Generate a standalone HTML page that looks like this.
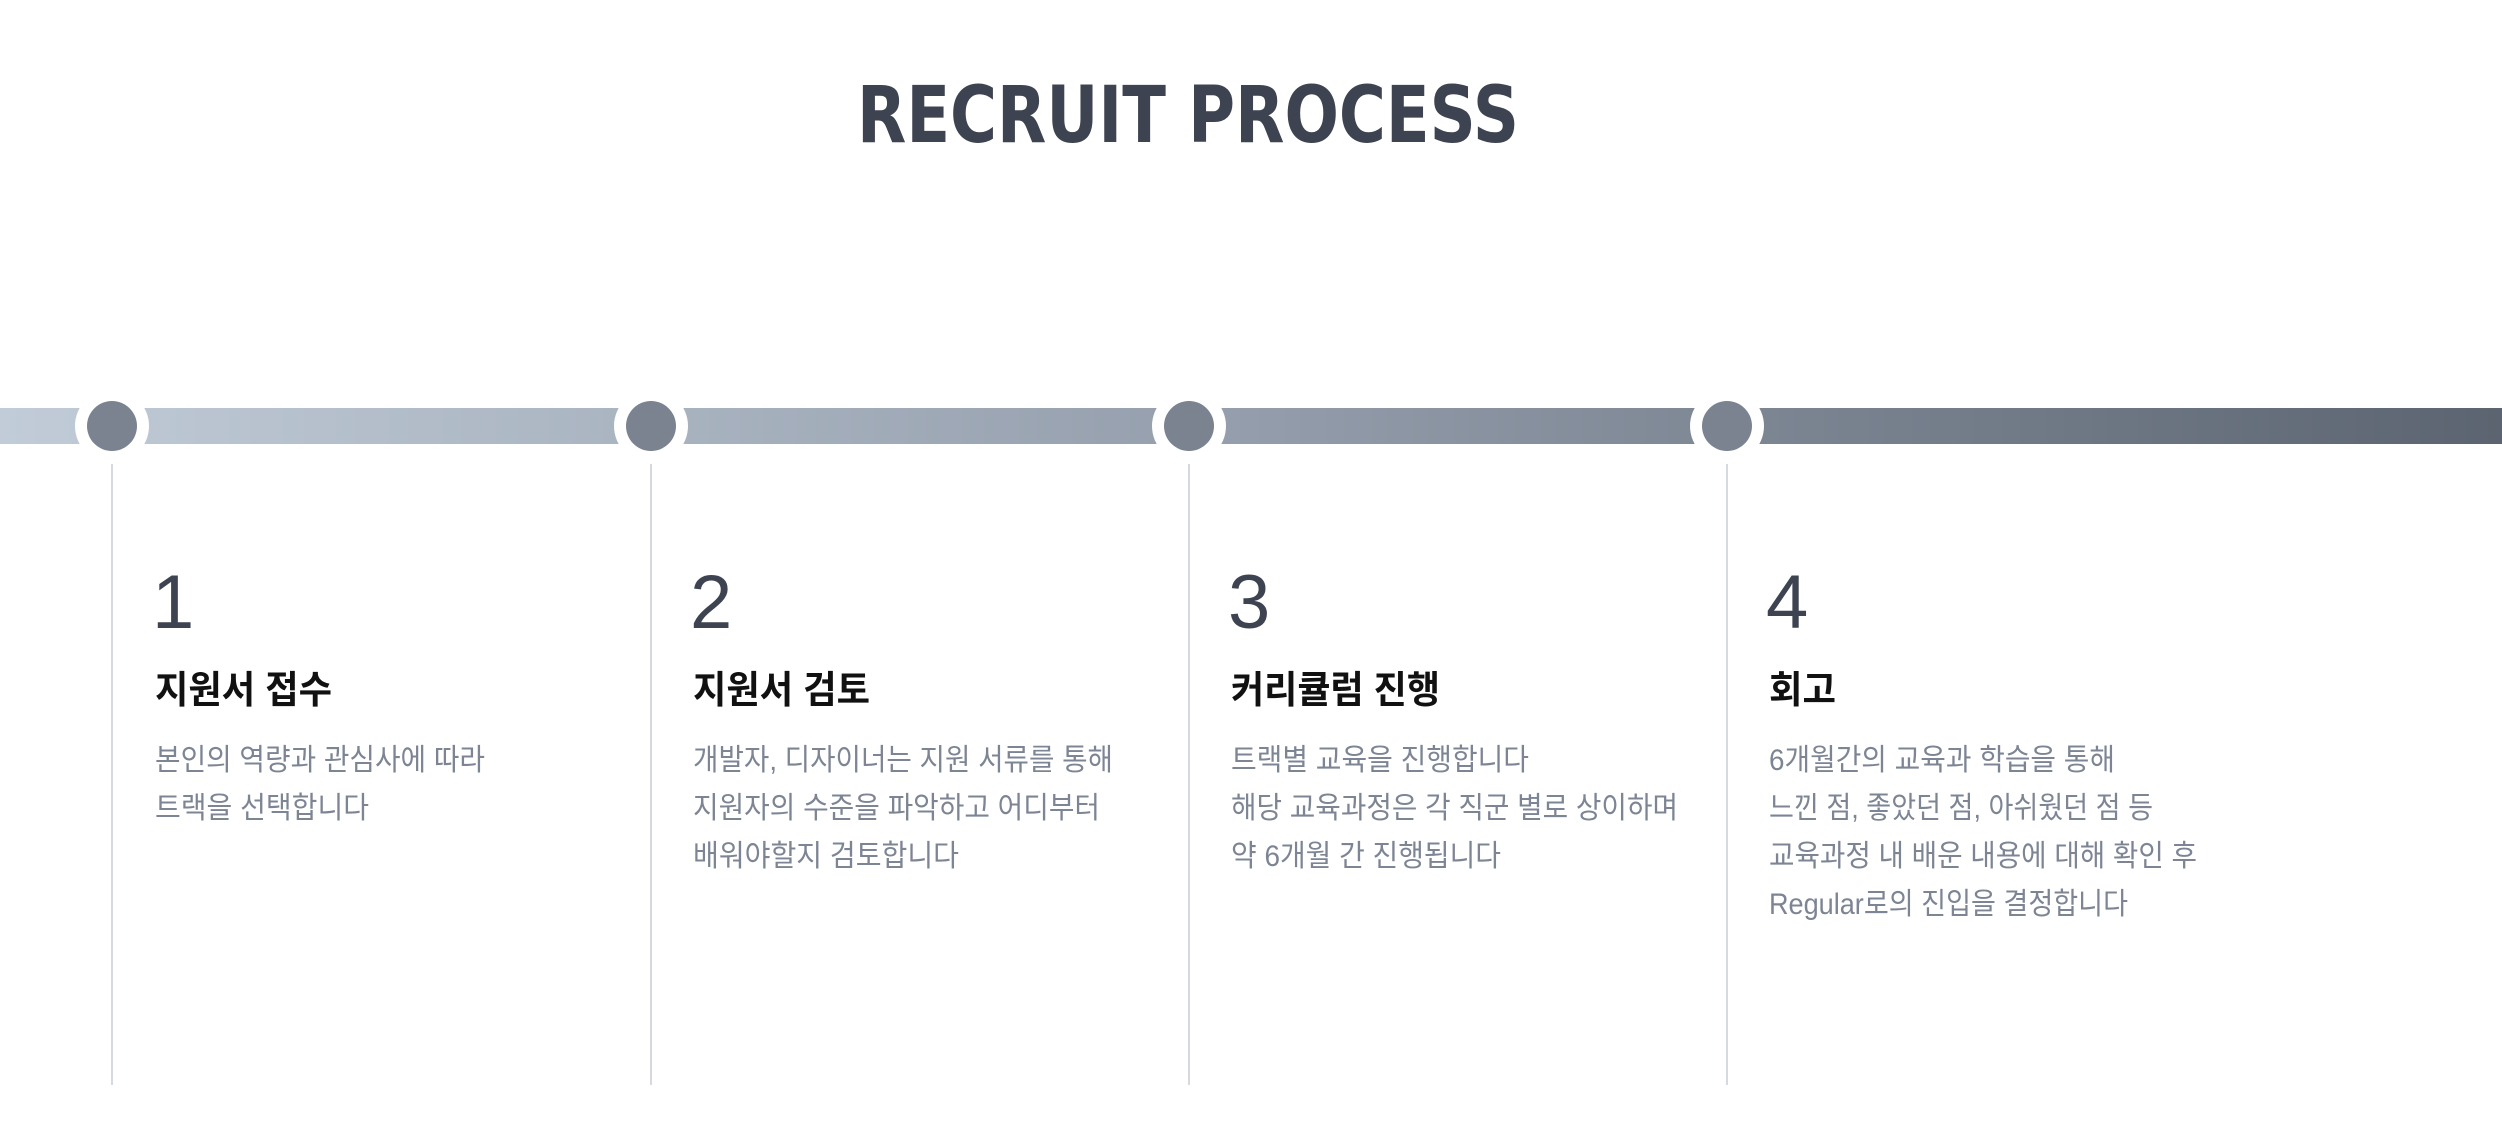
<!DOCTYPE html>
<html><head><meta charset="utf-8"><style>html,body{margin:0;padding:0;background:#fff}svg{display:block}</style></head>
<body>
<svg width="2502" height="1122" viewBox="0 0 2502 1122" xmlns="http://www.w3.org/2000/svg" font-family="'Liberation Sans','Noto Sans CJK KR',sans-serif">
<defs><linearGradient id="g" x1="0" x2="1" y1="0" y2="0"><stop offset="0" stop-color="#c1ccd8"/><stop offset="0.5" stop-color="#939dab"/><stop offset="1" stop-color="#5b6470"/></linearGradient></defs>
<text x="857" y="142" font-size="78" font-weight="bold" fill="#3d4350" textLength="662" lengthAdjust="spacingAndGlyphs" font-family="'DejaVu Sans','Liberation Sans',sans-serif">RECRUIT PROCESS</text>
<rect x="0" y="408" width="2502" height="36" fill="url(#g)"/>
<g fill="#fff"><circle cx="112" cy="426" r="37"/><circle cx="651" cy="426" r="37"/><circle cx="1189" cy="426" r="37"/><circle cx="1727" cy="426" r="37"/></g>
<g fill="#7b8290"><circle cx="112" cy="426" r="25"/><circle cx="651" cy="426" r="25"/><circle cx="1189" cy="426" r="25"/><circle cx="1727" cy="426" r="25"/></g>
<g stroke="#d6d9dd" stroke-width="2"><line x1="112" y1="464" x2="112" y2="1085"/><line x1="651" y1="464" x2="651" y2="1085"/><line x1="1189" y1="464" x2="1189" y2="1085"/><line x1="1727" y1="464" x2="1727" y2="1085"/></g>
<g font-size="76" fill="#3d4350"><text x="152" y="628">1</text><text x="690" y="628">2</text><text x="1228" y="628">3</text><text x="1766" y="628">4</text></g>
<g font-size="38" font-weight="bold" fill="#111">
<text x="155" y="703" textLength="177" lengthAdjust="spacingAndGlyphs">지원서 접수</text>
<text x="693" y="703" textLength="177" lengthAdjust="spacingAndGlyphs">지원서 검토</text>
<text x="1231" y="703" textLength="209" lengthAdjust="spacingAndGlyphs">커리큘럼 진행</text>
<text x="1769" y="703" textLength="67" lengthAdjust="spacingAndGlyphs">회고</text>
</g>
<g font-size="30" fill="#7d8594">
<text x="155" y="770" textLength="330" lengthAdjust="spacingAndGlyphs">본인의 역량과 관심사에 따라</text>
<text x="155" y="818" textLength="214" lengthAdjust="spacingAndGlyphs">트랙을 선택합니다</text>
<text x="693" y="770" textLength="420" lengthAdjust="spacingAndGlyphs">개발자, 디자이너는 지원 서류를 통해</text>
<text x="693" y="818" textLength="407" lengthAdjust="spacingAndGlyphs">지원자의 수준을 파악하고 어디부터</text>
<text x="693" y="866" textLength="266" lengthAdjust="spacingAndGlyphs">배워야할지 검토합니다</text>
<text x="1231" y="770" textLength="298" lengthAdjust="spacingAndGlyphs">트랙별 교육을 진행합니다</text>
<text x="1231" y="818" textLength="447" lengthAdjust="spacingAndGlyphs">해당 교육과정은 각 직군 별로 상이하며</text>
<text x="1231" y="866" textLength="270" lengthAdjust="spacingAndGlyphs">약 6개월 간 진행됩니다</text>
<text x="1769" y="770" textLength="346" lengthAdjust="spacingAndGlyphs">6개월간의 교육과 학습을 통해</text>
<text x="1769" y="818" textLength="384" lengthAdjust="spacingAndGlyphs">느낀 점, 좋았던 점, 아쉬웠던 점 등</text>
<text x="1769" y="866" textLength="428" lengthAdjust="spacingAndGlyphs">교육과정 내 배운 내용에 대해 확인 후</text>
<text x="1769" y="914" textLength="359" lengthAdjust="spacingAndGlyphs">Regular로의 진입을 결정합니다</text>
</g>
</svg>
</body></html>
